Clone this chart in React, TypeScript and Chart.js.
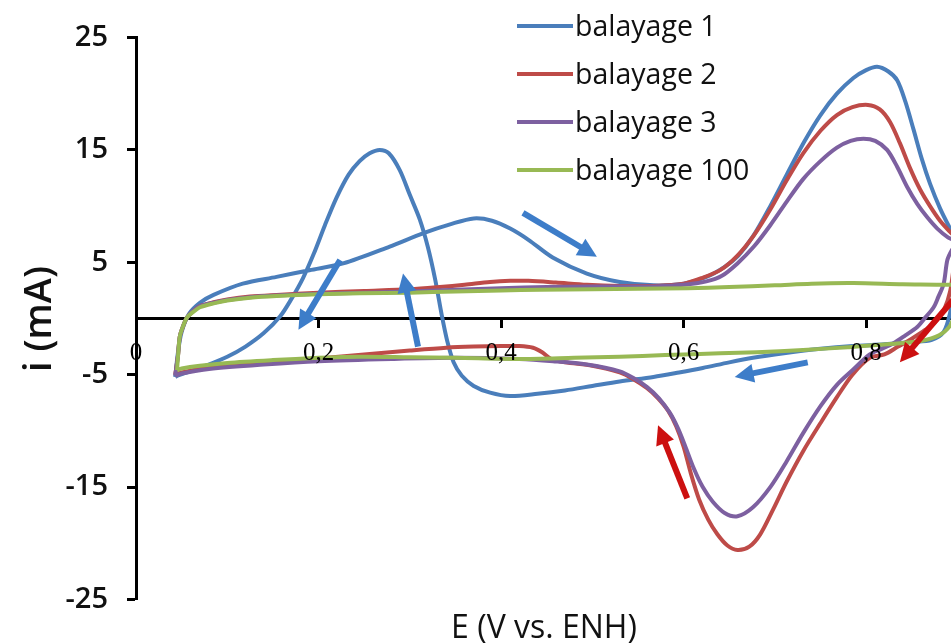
import React, { useEffect, useRef } from 'react';
import { Chart, registerables } from 'chart.js';

Chart.register(...registerables);

// ---------- data ----------
const xTicks = [0, 0.2, 0.4, 0.6, 0.8];
const yTicks = [-25, -15, -5, 5, 15, 25];
const xMin = 0;
const xMax = 0.893;
const yMin = -25;
const yMax = 25;

const seriesNames = ['balayage 1', 'balayage 2', 'balayage 3', 'balayage 100'];
const seriesColors = ['#4a7ebb', '#be4b48', '#7d60a0', '#98b954'];

// balayage 1
const scan1E = [
  0.043, 0.046, 0.05, 0.058, 0.07, 0.085, 0.117, 0.154, 0.19, 0.227, 0.278, 0.315, 0.345, 0.37, 0.39, 0.41, 0.43,
  0.457, 0.494, 0.53, 0.567, 0.6, 0.625, 0.645, 0.66, 0.676, 0.695, 0.713, 0.732, 0.75, 0.768, 0.786, 0.8, 0.812,
  0.824, 0.834, 0.843, 0.852, 0.861, 0.87, 0.881, 0.892, 0.9, 0.897, 0.892, 0.885, 0.872, 0.85, 0.82, 0.785, 0.75,
  0.71, 0.676, 0.65, 0.621, 0.595, 0.567, 0.53, 0.5, 0.47, 0.44, 0.41, 0.388, 0.37, 0.357, 0.348, 0.341, 0.335,
  0.328, 0.32, 0.311, 0.3, 0.289, 0.277, 0.267, 0.256, 0.245, 0.233, 0.22, 0.207, 0.195, 0.183, 0.17, 0.158, 0.14,
  0.12, 0.1, 0.07, 0.045, 0.043,
];
const scan1I = [
  -5.2, -3.0, -1.2, 0.4, 1.4, 2.1, 3.1, 3.7, 4.3, 4.9, 6.4, 7.6, 8.4, 8.9, 8.7, 8.0, 7.0,
  5.4, 4.0, 3.25, 2.95, 3.1, 3.7, 4.6, 5.6, 7.3, 10.0, 12.8, 15.7, 18.1, 20.0, 21.4, 22.1, 22.4,
  22.0, 21.2, 19.3, 16.8, 14.2, 12.0, 9.8, 8.0, 6.8, 3.0, 0.5, -1.2, -1.9, -2.1, -2.3, -2.45, -2.7,
  -3.1, -3.5, -3.9, -4.4, -4.8, -5.2, -5.6, -6.0, -6.4, -6.7, -6.9, -6.6, -6.0, -5.1, -3.9, -2.0, 0.3,
  3.4, 6.3, 8.8, 11.0, 13.2, 14.7, 15.0, 14.7, 14.0, 12.8, 10.8, 8.3, 5.8, 3.6, 1.7, 0.2, -1.3,
  -2.5, -3.4, -4.4, -5.1, -5.2,
];

// balayage 2
const scan2E = [
  0.043, 0.046, 0.048, 0.052, 0.056, 0.063, 0.07, 0.085, 0.1, 0.125, 0.154, 0.2, 0.25, 0.3, 0.333, 0.36, 0.388,
  0.41, 0.43, 0.46, 0.494, 0.53, 0.567, 0.6, 0.62, 0.64, 0.659, 0.677, 0.695, 0.713, 0.731, 0.75, 0.768, 0.785,
  0.802, 0.815, 0.826, 0.837, 0.848, 0.859, 0.87, 0.881, 0.892, 0.9, 0.896, 0.892, 0.886, 0.877, 0.865, 0.85,
  0.835, 0.82, 0.804, 0.785, 0.768, 0.75, 0.731, 0.713, 0.698, 0.684, 0.672, 0.659, 0.648, 0.637, 0.627, 0.617,
  0.608, 0.6, 0.592, 0.583, 0.572, 0.56, 0.545, 0.53, 0.5, 0.47, 0.455, 0.445, 0.435, 0.42, 0.4, 0.37, 0.34, 0.3,
  0.25, 0.2, 0.14, 0.08, 0.05, 0.043,
];
const scan2I = [
  -5.0, -3.3, -1.6, -0.6, 0.1, 0.7, 1.1, 1.45, 1.7, 1.95, 2.1, 2.3, 2.45, 2.6, 2.8, 3.0, 3.25,
  3.35, 3.35, 3.2, 3.0, 2.9, 2.9, 3.1, 3.6, 4.3, 5.6, 7.4, 9.7, 12.3, 14.7, 16.7, 18.1, 18.8,
  19.0, 18.6, 17.5, 15.6, 13.4, 11.5, 10.0, 8.7, 7.7, 7.0, 4.6, 2.4, 0.9, -0.2, -1.0, -1.8,
  -2.5, -3.2, -3.5, -5.0, -7.0, -9.3, -11.8, -14.5, -17.0, -19.2, -20.3, -20.6, -20.2, -19.2, -17.9, -16.1,
  -13.8, -11.4, -9.6, -8.2, -7.1, -6.2, -5.4, -4.8, -4.2, -3.9, -3.6, -3.0, -2.6, -2.45, -2.45, -2.5, -2.6, -2.85,
  -3.2, -3.55, -3.95, -4.4, -4.8, -5.0,
];

// balayage 3
const scan3E = [
  0.043, 0.046, 0.048, 0.052, 0.056, 0.063, 0.07, 0.085, 0.1, 0.125, 0.154, 0.2, 0.3, 0.4, 0.45, 0.5, 0.567, 0.6,
  0.625, 0.642, 0.659, 0.677, 0.695, 0.713, 0.731, 0.75, 0.768, 0.783, 0.797, 0.81, 0.823, 0.834, 0.845, 0.856,
  0.867, 0.878, 0.89, 0.9, 0.894, 0.889, 0.885, 0.879, 0.874, 0.865, 0.856, 0.843, 0.83, 0.817, 0.804, 0.785,
  0.768, 0.75, 0.731, 0.713, 0.695, 0.676, 0.659, 0.645, 0.632, 0.621, 0.611, 0.602, 0.594, 0.585, 0.573, 0.56,
  0.545, 0.53, 0.494, 0.457, 0.42, 0.35, 0.28, 0.2, 0.14, 0.08, 0.05, 0.043,
];
const scan3I = [
  -5.1, -3.3, -1.6, -0.6, 0.1, 0.7, 1.1, 1.4, 1.65, 1.9, 2.05, 2.2, 2.4, 2.7, 2.8, 2.85, 2.85, 3.0,
  3.3, 3.8, 4.9, 6.4, 8.3, 10.4, 12.4, 14.0, 15.2, 15.8, 16.0, 15.8, 15.0, 13.5, 11.7, 10.2,
  9.0, 8.0, 7.2, 6.8, 6.1, 5.2, 3.1, 1.9, 1.0, 0.1, -0.75, -1.5, -2.2, -2.7, -3.2, -4.6,
  -5.9, -7.8, -10.2, -12.7, -15.0, -16.8, -17.6, -17.3, -16.3, -15.0, -13.3, -11.4, -9.8, -8.4, -7.1, -6.1,
  -5.3, -4.7, -4.1, -3.8, -3.6, -3.5, -3.6, -3.8, -4.1, -4.5, -4.9, -5.1,
];

// balayage 100
const scan100E = [
  0.045, 0.046, 0.048, 0.052, 0.056, 0.063, 0.07, 0.085, 0.1, 0.125, 0.154, 0.2, 0.245, 0.3, 0.35, 0.4, 0.443,
  0.5, 0.55, 0.604, 0.65, 0.7, 0.74, 0.786, 0.84, 0.889, 0.9, 0.9, 0.893, 0.88, 0.86, 0.823, 0.78, 0.731, 0.68,
  0.64, 0.58, 0.53, 0.48, 0.42, 0.35, 0.3, 0.245, 0.2, 0.15, 0.1, 0.07, 0.05, 0.045,
];
const scan100I = [
  -4.6, -3.4, -1.6, -0.6, 0.1, 0.6, 1.0, 1.35, 1.6, 1.85, 2.0, 2.15, 2.25, 2.3, 2.4, 2.5, 2.55,
  2.6, 2.65, 2.7, 2.8, 2.95, 3.1, 3.15, 3.05, 3.0, 2.9, 1.5, -0.5, -1.5, -2.0, -2.3, -2.55, -2.8, -3.0,
  -3.1, -3.25, -3.4, -3.5, -3.6, -3.5, -3.45, -3.4, -3.5, -3.7, -3.95, -4.2, -4.45, -4.6,
];

// annotation arrows (scan direction), in data coordinates
const arrowFromE = [0.2236, 0.309, 0.424, 0.736, 0.604, 0.902];
const arrowFromI = [5.2, -2.5, 9.4, -3.9, -16.0, 2.3];
const arrowToE = [0.178, 0.2926, 0.505, 0.656, 0.572, 0.837];
const arrowToI = [-1.0, 4.0, 5.5, -5.2, -9.5, -3.9];
const arrowColors = ['#3d7dc9', '#3d7dc9', '#3d7dc9', '#3d7dc9', '#cc1010', '#cc1010'];

const xTitle = 'E (V vs. ENH)';
const yTitle = 'i (mA)';

const seriesE = [scan1E, scan2E, scan3E, scan100E];
const seriesI = [scan1I, scan2I, scan3I, scan100I];
const drawOrder = [3, 2, 1, 0];

const fmtX = (v: number) => (v === 0 ? '0' : v.toFixed(1).replace('.', ','));

const overlayPlugin = {
  id: 'cvOverlay',
  afterDatasetsDraw(chart: any) {
    const ctx = chart.ctx;
    const xs = chart.scales.x;
    const ys = chart.scales.y;
    ctx.save();
    // x tick labels, placed just under the axis that crosses at i = 0
    const y0 = ys.getPixelForValue(0);
    ctx.font = '25px "Liberation Serif"';
    ctx.fillStyle = '#000';
    ctx.textAlign = 'center';
    ctx.textBaseline = 'alphabetic';
    for (const v of xTicks) {
      ctx.fillText(fmtX(v), xs.getPixelForValue(v), y0 + 41);
    }
    // arrows
    for (let i = 0; i < arrowFromE.length; i++) {
      const x1 = xs.getPixelForValue(arrowFromE[i]);
      const y1 = ys.getPixelForValue(arrowFromI[i]);
      const x2 = xs.getPixelForValue(arrowToE[i]);
      const y2 = ys.getPixelForValue(arrowToI[i]);
      const a = Math.atan2(y2 - y1, x2 - x1);
      const hl = 19;
      const hw = 9.5;
      const bx = x2 - hl * Math.cos(a);
      const by = y2 - hl * Math.sin(a);
      ctx.strokeStyle = arrowColors[i];
      ctx.fillStyle = arrowColors[i];
      ctx.lineWidth = 6;
      ctx.lineCap = 'butt';
      ctx.beginPath();
      ctx.moveTo(x1, y1);
      ctx.lineTo(bx + 2 * Math.cos(a), by + 2 * Math.sin(a));
      ctx.stroke();
      ctx.beginPath();
      ctx.moveTo(x2, y2);
      ctx.lineTo(bx + hw * Math.sin(a), by - hw * Math.cos(a));
      ctx.lineTo(bx - hw * Math.sin(a), by + hw * Math.cos(a));
      ctx.closePath();
      ctx.fill();
    }
    ctx.restore();
  },
  afterDraw(chart: any) {
    const ctx = chart.ctx;
    ctx.save();
    // legend
    const legendX = 517;
    const legendY0 = 26;
    const legendStep = 48;
    ctx.font = '500 28.5px "Open Sans"';
    ctx.textAlign = 'left';
    ctx.textBaseline = 'alphabetic';
    for (let i = 0; i < seriesNames.length; i++) {
      const ly = legendY0 + i * legendStep;
      ctx.strokeStyle = seriesColors[i];
      ctx.lineWidth = 4;
      ctx.beginPath();
      ctx.moveTo(legendX, ly);
      ctx.lineTo(legendX + 56, ly);
      ctx.stroke();
      ctx.fillStyle = '#111';
      ctx.fillText(seriesNames[i], legendX + 58, ly + 10);
    }
    // axis titles
    ctx.fillStyle = '#111';
    ctx.font = '500 32px "Open Sans"';
    ctx.textAlign = 'center';
    ctx.fillText(xTitle, 544, 638);
    ctx.translate(51, 319);
    ctx.rotate(-Math.PI / 2);
    ctx.font = '600 38px "Open Sans"';
    ctx.fillText(yTitle, 0, 0);
    ctx.restore();
  },
};

export default function App() {
  const canvasRef = useRef<HTMLCanvasElement | null>(null);

  useEffect(() => {
    document.body.style.margin = '0';
    const canvas = canvasRef.current;
    if (!canvas) return;
    const datasets = seriesNames.map((name, s) => ({
      label: name,
      data: seriesE[s].map((e, k) => ({ x: e, y: seriesI[s][k] })),
      borderColor: seriesColors[s],
      backgroundColor: seriesColors[s],
      borderWidth: 4,
      showLine: true,
      pointRadius: 0,
      tension: 0.3,
      fill: false,
      order: drawOrder[s],
    }));
    const chart = new Chart(canvas, {
      type: 'scatter',
      data: { datasets },
      options: {
        responsive: false,
        animation: false,
        events: [],
        layout: { padding: { left: 0, right: 0, top: 37.5, bottom: 43.5 } },
        plugins: {
          legend: { display: false },
          tooltip: { enabled: false },
          title: { display: false },
        },
        scales: {
          x: {
            type: 'linear',
            min: xMin,
            max: xMax,
            position: { y: 0 } as any,
            afterBuildTicks: (axis: any) => {
              axis.ticks = xTicks.map((v) => ({ value: v }));
            },
            grid: {
              display: true,
              drawOnChartArea: false,
              drawTicks: true,
              tickLength: 8,
              tickWidth: 3,
              tickColor: '#000',
            },
            border: { display: true, color: '#000', width: 3 },
            ticks: {
              display: false,
              autoSkip: false,
            },
          },
          y: {
            type: 'linear',
            min: yMin,
            max: yMax,
            position: 'left',
            afterBuildTicks: (axis: any) => {
              axis.ticks = yTicks.map((v) => ({ value: v }));
            },
            afterFit: (axis: any) => {
              axis.width = 136;
            },
            grid: {
              display: true,
              drawOnChartArea: false,
              drawTicks: true,
              tickLength: 9,
              tickWidth: 3,
              tickColor: '#000',
            },
            border: { display: true, color: '#000', width: 3 },
            ticks: {
              color: '#111',
              font: { family: '"Open Sans"', size: 29, weight: '600' as any },
              padding: 19,
              autoSkip: false,
              callback: (v: any) => String(v),
            },
          },
        },
      },
      plugins: [overlayPlugin],
    });
    return () => chart.destroy();
  }, []);

  return (
    <div style={{ width: 951, height: 643, background: '#fff' }}>
      <canvas ref={canvasRef} width={951} height={643} style={{ display: 'block' }} />
    </div>
  );
}
